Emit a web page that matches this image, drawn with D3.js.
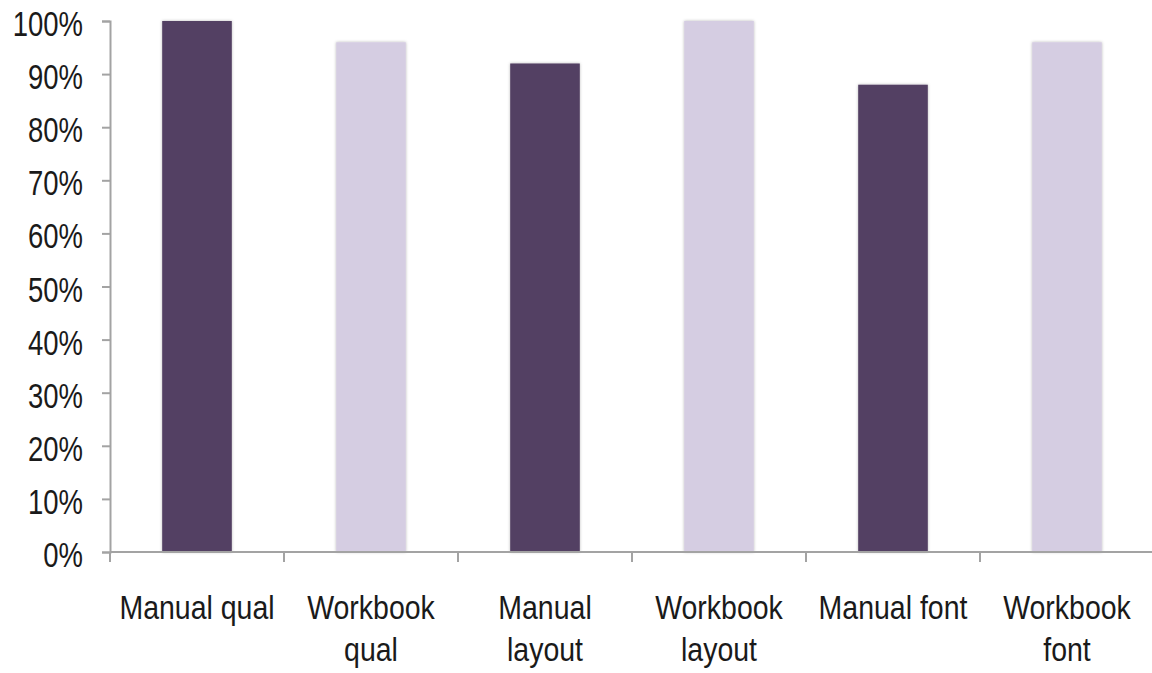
<!DOCTYPE html>
<html>
<head>
<meta charset="utf-8">
<script src="https://cdn.jsdelivr.net/npm/d3@7"></script>
<style>
  html, body { margin: 0; padding: 0; background: #fff; }
  svg { display: block; }
  text { font-family: "Liberation Sans", Arial, sans-serif; fill: #1a1a1a; }
</style>
</head>
<body>
<svg id="chart" width="1152" height="673"></svg>
<script>
// Share of participants per condition
const categories = [
  ["Manual qual"],
  ["Workbook", "qual"],
  ["Manual", "layout"],
  ["Workbook", "layout"],
  ["Manual font"],
  ["Workbook", "font"]
];
const values = [1.00, 0.96, 0.92, 1.00, 0.88, 0.96];
const kinds = ["manual", "workbook", "manual", "workbook", "manual", "workbook"];
const yTicks = [0, 0.1, 0.2, 0.3, 0.4, 0.5, 0.6, 0.7, 0.8, 0.9, 1.0];

const colors = { manual: "#523f63", workbook: "#d5cde2" };
const axisColor = "#a3a3a3";

const svg = d3.select("#chart");
const plot = { left: 110, right: 1154, top: 21, bottom: 552 };

const x = d3.scaleBand().domain(d3.range(categories.length)).range([plot.left, plot.right]).padding(0);
const y = d3.scaleLinear().domain([0, 1]).range([plot.bottom, plot.top]);

const defs = svg.append("defs");
const f = defs.append("filter").attr("id", "shadow")
  .attr("x", "-10%").attr("y", "-10%").attr("width", "120%").attr("height", "120%");
f.append("feDropShadow").attr("dx", 0).attr("dy", 0).attr("stdDeviation", 1.4)
  .attr("flood-color", "#000").attr("flood-opacity", 0.28);

// Bars
const barW = x.bandwidth() * 0.4;
svg.append("g").selectAll("rect")
  .data(values)
  .join("rect")
  .attr("x", (d, i) => x(i) + (x.bandwidth() - barW) / 2)
  .attr("y", d => y(d))
  .attr("width", barW)
  .attr("height", d => y(0) - y(d))
  .attr("fill", (d, i) => colors[kinds[i]])
  .attr("filter", "url(#shadow)");

// Y axis (labels drawn in a tall, narrow style)
const yAxis = svg.append("g")
  .attr("transform", `translate(${plot.left},0)`)
  .call(d3.axisLeft(y).tickValues(yTicks).tickFormat(d3.format(".0%"))
    .tickSizeInner(8).tickSizeOuter(8).tickPadding(19));
yAxis.select(".domain").attr("stroke", axisColor).attr("stroke-width", 2);
yAxis.selectAll(".tick line").attr("stroke", axisColor).attr("stroke-width", 2);
yAxis.selectAll(".tick text")
  .style("font-family", "'Liberation Sans', Arial, sans-serif")
  .style("font-size", "27.5px").attr("fill", "#1a1a1a")
  .attr("dy", "0.42em")
  .attr("transform", "scale(1,1.26)");

// X axis line with boundary ticks
const gx = svg.append("g");
gx.append("line")
  .attr("x1", plot.left).attr("x2", 1152)
  .attr("y1", y(0)).attr("y2", y(0))
  .attr("stroke", axisColor).attr("stroke-width", 2);
const bounds = d3.range(categories.length).map(i => x(i)).concat([x(categories.length - 1) + x.step()]);
gx.selectAll("line.tk")
  .data(bounds)
  .join("line").attr("class", "tk")
  .attr("x1", d => d).attr("x2", d => d)
  .attr("y1", y(0)).attr("y2", y(0) + 10)
  .attr("stroke", axisColor).attr("stroke-width", 2);

// Category labels
const labels = gx.selectAll("text.cat")
  .data(categories)
  .join("text").attr("class", "cat")
  .attr("transform", (d, i) => `translate(${x(i) + x.bandwidth() / 2},619) scale(1,1.18)`)
  .attr("text-anchor", "middle")
  .style("font-size", "28.5px");
labels.selectAll("tspan")
  .data(d => d)
  .join("tspan")
  .attr("x", 0)
  .attr("dy", (d, i) => i === 0 ? 0 : 35.5)
  .text(d => d);
</script>
</body>
</html>
